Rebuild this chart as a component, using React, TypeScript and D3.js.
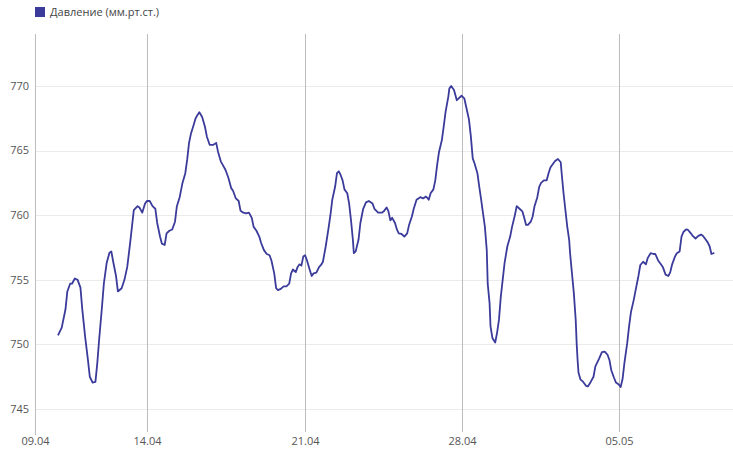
import React, { useEffect } from 'react';
import * as d3 from 'd3';

const seriesName = 'Давление (мм.рт.ст.)';
const xTickLabels = ['09.04', '14.04', '21.04', '28.04', '05.05'];
const yTickValues = [745, 750, 755, 760, 765, 770];

// readings: "dd.mm HH" -> mm Hg
const times = [
  '10.04 00', '10.04 04', '10.04 08', '10.04 10', '10.04 13', '10.04 15', '10.04 18', '10.04 21',
  '11.04 00', '11.04 02', '11.04 05', '11.04 08', '11.04 10', '11.04 13', '11.04 16', '11.04 18', '11.04 20', '11.04 23',
  '12.04 01', '12.04 04', '12.04 07', '12.04 09', '12.04 11', '12.04 14', '12.04 16', '12.04 20', '12.04 23',
  '13.04 02', '13.04 05', '13.04 07', '13.04 09', '13.04 13', '13.04 15', '13.04 18', '13.04 21', '13.04 23',
  '14.04 02', '14.04 05', '14.04 08', '14.04 10', '14.04 13', '14.04 15', '14.04 18', '14.04 20', '14.04 23',
  '15.04 02', '15.04 05', '15.04 07', '15.04 10', '15.04 13', '15.04 16', '15.04 18', '15.04 20', '15.04 22',
  '16.04 01', '16.04 03', '16.04 05', '16.04 07', '16.04 10', '16.04 13', '16.04 15', '16.04 18', '16.04 22',
  '17.04 01', '17.04 03', '17.04 06', '17.04 08', '17.04 11', '17.04 14', '17.04 17', '17.04 19', '17.04 22',
  '18.04 01', '18.04 03', '18.04 06', '18.04 09', '18.04 12', '18.04 15', '18.04 17', '18.04 20', '18.04 23',
  '19.04 01', '19.04 04', '19.04 07', '19.04 10', '19.04 12', '19.04 15', '19.04 17', '19.04 19', '19.04 22',
  '20.04 01', '20.04 04', '20.04 07', '20.04 09', '20.04 11', '20.04 14', '20.04 16', '20.04 18', '20.04 20', '20.04 22',
  '21.04 00', '21.04 02', '21.04 04', '21.04 07', '21.04 09', '21.04 12', '21.04 15', '21.04 17', '21.04 19', '21.04 22',
  '22.04 01', '22.04 03', '22.04 05', '22.04 08', '22.04 10', '22.04 12', '22.04 14', '22.04 16', '22.04 18', '22.04 21', '22.04 23',
  '23.04 01', '23.04 03', '23.04 04', '23.04 06', '23.04 09', '23.04 11', '23.04 14', '23.04 17', '23.04 20',
  '24.04 00', '24.04 02', '24.04 06', '24.04 10', '24.04 12', '24.04 15', '24.04 17', '24.04 19', '24.04 21',
  '25.04 00', '25.04 02', '25.04 04', '25.04 07', '25.04 10', '25.04 13', '25.04 15', '25.04 18', '25.04 20', '25.04 23',
  '26.04 03', '26.04 06', '26.04 09', '26.04 11', '26.04 12', '26.04 14', '26.04 17', '26.04 19', '26.04 21', '26.04 23',
  '27.04 02', '27.04 04', '27.04 06', '27.04 09', '27.04 10', '27.04 12', '27.04 15', '27.04 18', '27.04 20', '27.04 23',
  '28.04 02', '28.04 04', '28.04 07', '28.04 09', '28.04 11', '28.04 13', '28.04 16', '28.04 18', '28.04 20', '28.04 22',
  '29.04 00', '29.04 02', '29.04 03', '29.04 05', '29.04 06', '29.04 08', '29.04 11', '29.04 13', '29.04 15', '29.04 17', '29.04 19', '29.04 21',
  '30.04 00', '30.04 03', '30.04 05', '30.04 08', '30.04 10', '30.04 13', '30.04 16', '30.04 18', '30.04 20', '30.04 22',
  '01.05 01', '01.05 03', '01.05 05', '01.05 08', '01.05 10', '01.05 12', '01.05 15', '01.05 18', '01.05 20', '01.05 22',
  '02.05 01', '02.05 03', '02.05 06', '02.05 09', '02.05 10', '02.05 12', '02.05 14', '02.05 16', '02.05 18', '02.05 19', '02.05 21', '02.05 23',
  '03.05 01', '03.05 02', '03.05 03', '03.05 04', '03.05 06', '03.05 09', '03.05 12', '03.05 14', '03.05 17', '03.05 20', '03.05 22',
  '04.05 02', '04.05 05', '04.05 08', '04.05 11', '04.05 13', '04.05 15', '04.05 18', '04.05 20', '04.05 23',
  '05.05 01', '05.05 03', '05.05 05', '05.05 08', '05.05 10', '05.05 12', '05.05 15', '05.05 17', '05.05 20', '05.05 22',
  '06.05 01', '06.05 04', '06.05 06', '06.05 09', '06.05 12', '06.05 14', '06.05 17', '06.05 20', '06.05 22',
  '07.05 01', '07.05 04', '07.05 06', '07.05 08', '07.05 11', '07.05 13', '07.05 16', '07.05 18', '07.05 20', '07.05 23',
  '08.05 01', '08.05 04', '08.05 06', '08.05 09', '08.05 12', '08.05 15', '08.05 17', '08.05 20', '08.05 22',
  '09.05 00', '09.05 02', '09.05 04', '09.05 05',
];

const pressure = [
  750.7, 751.3, 752.7, 754.1, 754.7, 754.7, 755.1, 755.0,
  754.4, 752.7, 750.6, 748.8, 747.5, 747.05, 747.1, 748.55, 750.4, 752.9,
  754.7, 756.3, 757.1, 757.2, 756.4, 755.3, 754.1, 754.35, 755.0,
  756.0, 757.8, 759.1, 760.4, 760.7, 760.6, 760.2, 760.9, 761.1,
  761.1, 760.7, 760.5, 759.4, 758.35, 757.8, 757.7, 758.6, 758.8,
  758.9, 759.5, 760.7, 761.4, 762.5, 763.25, 764.3, 765.6, 766.3,
  767.0, 767.5, 767.76, 767.97, 767.6, 766.85, 766.1, 765.45, 765.45,
  765.6, 764.9, 764.15, 763.9, 763.5, 762.9, 762.1, 761.9, 761.3,
  761.1, 760.35, 760.2, 760.15, 760.2, 759.8, 759.1, 758.8, 758.35,
  757.85, 757.3, 757.0, 756.9, 756.5, 755.5, 754.35, 754.2, 754.3,
  754.5, 754.5, 754.7, 755.5, 755.8, 755.6, 756.0, 756.2, 756.1, 756.8,
  756.9, 756.5, 756.0, 755.3, 755.5, 755.55, 756.0, 756.15, 756.4, 757.6,
  759.0, 760.0, 761.2, 762.2, 763.25, 763.4, 763.1, 762.7, 762.0, 761.7, 760.9,
  759.6, 758.1, 757.06, 757.2, 758.1, 759.4, 760.5, 761.0, 761.1,
  760.9, 760.5, 760.2, 760.2, 760.3, 760.6, 760.3, 759.6, 759.8,
  759.4, 758.9, 758.6, 758.55, 758.35, 758.6, 759.25, 759.9, 760.5, 761.2,
  761.4, 761.3, 761.45, 761.3, 761.2, 761.7, 762.0, 762.7, 763.9, 764.9,
  765.8, 766.85, 768.0, 769.2, 769.8, 770.0, 769.7, 768.9, 769.05, 769.25,
  769.05, 768.4, 767.4, 766.1, 764.4, 764.0, 763.25, 762.2, 761.2, 760.15,
  759.1, 757.3, 754.7, 753.2, 751.4, 750.5, 750.15, 750.9, 751.9, 753.7, 755.0, 756.3,
  757.6, 758.35, 759.1, 760.0, 760.7, 760.5, 760.3, 759.8, 759.25, 759.25,
  759.5, 759.9, 760.7, 761.4, 762.2, 762.5, 762.7, 762.7, 763.25, 763.7,
  764.0, 764.2, 764.35, 764.1, 763.25, 761.7, 760.4, 759.1, 758.1, 757.06, 755.5, 753.97,
  751.9, 750.1, 748.8, 747.8, 747.3, 747.1, 746.8, 746.75, 747.1, 747.5, 748.3,
  748.9, 749.4, 749.45, 749.2, 748.8, 748.0, 747.4, 747.05, 746.9,
  746.7, 747.3, 748.55, 750.1, 751.4, 752.5, 753.45, 754.2, 755.3, 756.15,
  756.4, 756.2, 756.7, 757.06, 757.0, 757.0, 756.5, 756.2, 756.0,
  755.4, 755.3, 755.6, 756.2, 756.8, 757.06, 757.2, 758.35, 758.7, 758.9,
  758.86, 758.6, 758.4, 758.2, 758.4, 758.5, 758.4, 758.1, 757.9,
  757.6, 757.0, 757.06, 757.1,
];

const width = 733;
const height = 451;
const plotLeft = 35.5;
const plotRight = 733;
const plotTop = 35;
const plotBottom = 431;
const lineColor = '#3b3b9b';
const font = '"Open Sans", "Noto Sans", sans-serif';

const parseTime = d3.timeParse('%d.%m %H');
const parseDay = d3.timeParse('%d.%m');

export default function App() {
  useEffect(() => {
    document.body.style.margin = '0';
  }, []);

  const points = times.map((t, i) => ({ date: parseTime(t) as Date, value: pressure[i] }));

  const x = d3
    .scaleTime()
    .domain([parseDay('09.04') as Date, parseTime('10.05 01') as Date])
    .range([plotLeft, plotRight]);
  const y = d3.scaleLinear().domain([743.3, 773.95]).range([plotBottom, plotTop]);

  const line = d3
    .line<{ date: Date; value: number }>()
    .x(d => x(d.date))
    .y(d => y(d.value));

  const snap = (v: number) => Math.round(v) + 0.5;

  return (
    <svg width={width} height={height} style={{ display: 'block', fontFamily: font }}>
      {/* legend */}
      <rect x={35} y={7} width={10} height={10} fill={lineColor} />
      <text x={50} y={16} fontSize={11} fill="#444">
        {seriesName}
      </text>

      {/* horizontal grid + y labels */}
      {yTickValues.map(v => (
        <g key={v}>
          <line x1={plotLeft} x2={plotRight} y1={snap(y(v))} y2={snap(y(v))} stroke="#ebebeb" />
          <text x={29} y={y(v)} dy="0.35em" textAnchor="end" fontSize={11} fill="#555">
            {v}
          </text>
        </g>
      ))}

      {/* vertical day ticks */}
      {xTickLabels.map(lbl => {
        const px = snap(x(parseDay(lbl) as Date) - 0.5);
        return (
          <g key={lbl}>
            <line x1={px} x2={px} y1={34} y2={432} stroke="#bcbcbc" />
            <text x={px} y={445} textAnchor="middle" fontSize={11} fill="#555">
              {lbl}
            </text>
          </g>
        );
      })}

      {/* y axis line */}
      <line x1={plotLeft} x2={plotLeft} y1={34} y2={435} stroke="#bcbcbc" />

      <path d={line(points) || ''} fill="none" stroke={lineColor} strokeWidth={1.8} strokeLinejoin="round" />
    </svg>
  );
}
